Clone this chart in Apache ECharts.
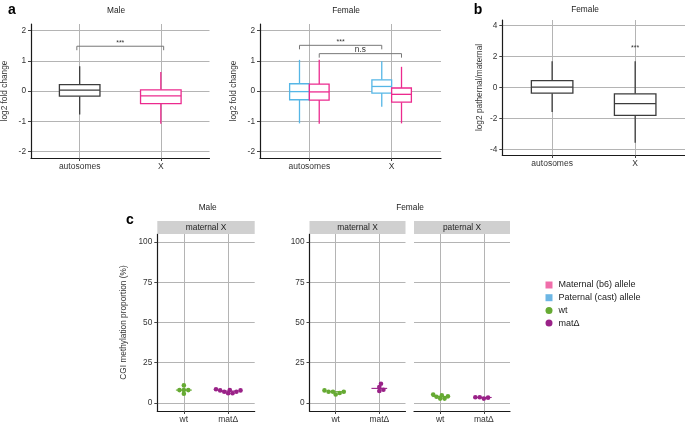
<!DOCTYPE html>
<html><head><meta charset="utf-8">
<script src="https://cdn.jsdelivr.net/npm/echarts@6/dist/echarts.min.js"></script>
<style>html,body{margin:0;padding:0;background:#fff}#c{width:685px;height:424px}</style>
</head><body><div id="c"></div>
<script>
// ---------------- data ----------------
const boxCategories = ['autosomes', 'X'];
// box statistics: [lower whisker, Q1, median, Q3, upper whisker]
const maleFoldChange = [[-0.78, -0.17, 0.03, 0.21, 0.82], [-1.08, -0.42, -0.16, 0.04, 0.63]];
const femalePaternalFoldChange = [[-1.07, -0.29, -0.02, 0.24, 1.03], [-0.52, -0.07, 0.15, 0.37, 0.98]];
const femaleMaternalFoldChange = [[-1.08, -0.30, -0.03, 0.23, 1.03], [-1.07, -0.37, -0.11, 0.10, 0.80]];
const femaleLog2PatMat = [[-1.58, -0.37, 0.02, 0.45, 1.70], [-3.58, -1.81, -1.04, -0.41, 1.70]];
const foldChangeTicks = [-2, -1, 0, 1, 2];
const patMatTicks = [-4, -2, 0, 2, 4];
const maleBrackets = [{ x1: 0.965, x2: 2.035, y: 1.48, label: '***' }];
const femaleBrackets = [{ x1: 0.88, x2: 1.88, y: 1.51, label: '***' }, { x1: 1.12, x2: 2.12, y: 1.235, label: 'n.s' }];
const patMatLabels = [{ x: 2, y: 2.35, label: '***' }];

const methylCategories = ['wt', 'matΔ'];
const methylTicks = [0, 25, 50, 75, 100];
const maleMaternalX_wt = [8.0, 8.0, 10.9, 5.7, 8.0];
const maleMaternalX_mat = [8.0, 7.8, 7.0, 6.0, 6.0, 7.0, 7.8, 8.5];
const femaleMaternalX_wt = [7.8, 7.0, 7.0, 5.3, 6.2, 7.0];
const femaleMaternalX_mat = [9.9, 7.4, 8.2, 11.9];
const femalePaternalX_wt = [4.7, 3.9, 2.7, 2.7, 4.1, 5.3];
const femalePaternalX_mat = [3.5, 3.5, 2.7, 3.3];

// ---------------- style ----------------
const FONT = "'Liberation Sans', Arial, Helvetica, sans-serif";
const GRID = '#b4b4b4';
const AXIS = '#1a1a1a';
const TXT = '#333333';
const C_DARK = '#3c3c3c', C_PINK = '#EC2A8E', C_BLUE = '#55B6E6';
const C_GREEN = '#66AA33', C_PURPLE = '#9A2288';
const grids = [
  { left: 30, top: 24, width: 179.5, height: 134 },
  { left: 260, top: 24, width: 181, height: 134 },
  { left: 502.3, top: 20, width: 183.3, height: 135 },
  { left: 157.3, top: 234, width: 97.4, height: 178.5 },
  { left: 309.5, top: 234, width: 96, height: 178.5 },
  { left: 414, top: 234, width: 96, height: 178.5 }
];
const XMIN = 0.4, XMAX = 2.6;

function xAxis(gi, labels) {
  return {
    type: 'value', gridIndex: gi, min: XMIN, max: XMAX,
    axisLine: { show: true, onZero: false, lineStyle: { color: AXIS, width: 1.2 } },
    axisTick: { show: true, customValues: [1, 2], length: 3, lineStyle: { color: '#444' } },
    axisLabel: { customValues: [1, 2], formatter: v => labels[Math.round(v) - 1], fontSize: 8.5, color: TXT, margin: 4, fontFamily: FONT },
    splitLine: { show: true, lineStyle: { color: GRID, width: 1 } }
  };
}
function yAxis(gi, min, max, ticks, name, gap, show) {
  return {
    type: 'value', gridIndex: gi, min, max,
    name, nameLocation: 'middle', nameGap: gap, nameRotate: 90,
    nameTextStyle: { fontSize: 8.3, color: TXT, fontFamily: FONT },
    axisLine: { show: show, onZero: false, lineStyle: { color: AXIS, width: 1.2 } },
    axisTick: { show: show, customValues: ticks, length: 3, lineStyle: { color: '#444' } },
    axisLabel: { show: show, customValues: ticks, fontSize: 8.3, color: TXT, margin: 5, fontFamily: FONT },
    splitLine: { show: true, lineStyle: { color: GRID, width: 1 } }
  };
}

function boxRender(boxW, color, lw) {
  return function (params, api) {
    const x = api.value(0);
    const lo = api.coord([x, api.value(1)]), q1 = api.coord([x, api.value(2)]),
      md = api.coord([x, api.value(3)]), q3 = api.coord([x, api.value(4)]), hi = api.coord([x, api.value(5)]);
    const L = api.coord([x - boxW / 2, 0])[0], R = api.coord([x + boxW / 2, 0])[0];
    const cx = lo[0];
    const st = { stroke: color, lineWidth: lw };
    return { type: 'group', children: [
      { type: 'line', shape: { x1: cx, y1: hi[1], x2: cx, y2: q3[1] }, style: st },
      { type: 'line', shape: { x1: cx, y1: q1[1], x2: cx, y2: lo[1] }, style: st },
      { type: 'rect', shape: { x: L, y: q3[1], width: R - L, height: q1[1] - q3[1] }, style: { stroke: color, lineWidth: lw, fill: '#ffffff' } },
      { type: 'line', shape: { x1: L, y1: md[1], x2: R, y2: md[1] }, style: st }
    ] };
  };
}
function boxSeries(gi, stats, first, shift, boxW, color, name) {
  return {
    type: 'custom', name, xAxisIndex: gi, yAxisIndex: gi, clip: false, silent: true,
    itemStyle: { color },
    renderItem: boxRender(boxW, color, 1.3),
    encode: { x: 0, y: [1, 2, 3, 4, 5] },
    data: stats.map((s, i) => [first + i + shift].concat(s)), z: 3
  };
}
function bracketSeries(gi, list) {
  return {
    type: 'custom', xAxisIndex: gi, yAxisIndex: gi, clip: false, silent: true,
    renderItem: function (params, api) {
      const b = list[params.dataIndex];
      const p1 = api.coord([b.x1, b.y]), p2 = api.coord([b.x2, b.y]);
      const isStar = b.label === '***';
      return { type: 'group', children: [
        { type: 'polyline', shape: { points: [[p1[0], p1[1] + 4], [p1[0], p1[1]], [p2[0], p2[1]], [p2[0], p2[1] + 4]] }, style: { stroke: '#777', lineWidth: 1, fill: null } },
        { type: 'text', style: { text: b.label, x: (p1[0] + p2[0]) / 2, y: p1[1] + 0.5, align: 'center', verticalAlign: 'bottom', fontSize: isStar ? 7 : 8.3, fill: TXT, fontFamily: FONT } }
      ] };
    },
    data: list.map(b => [b.x1, b.y]), z: 4
  };
}
function labelSeries(gi, list) {
  return {
    type: 'custom', xAxisIndex: gi, yAxisIndex: gi, clip: false, silent: true,
    renderItem: function (params, api) {
      const b = list[params.dataIndex];
      const p = api.coord([b.x, b.y]);
      return { type: 'text', style: { text: b.label, x: p[0], y: p[1], align: 'center', verticalAlign: 'bottom', fontSize: 7, fill: TXT, fontFamily: FONT } };
    },
    data: list.map(b => [b.x, b.y]), z: 4
  };
}

// beeswarm layout (pixel space): ascending order, each point at the closest free offset
const SX = 4.4, SY = 3.5;
function swarm(values, pxPerY) {
  const order = values.map((v, i) => i).sort((a, b) => values[a] - values[b]);
  const placed = [], offs = new Array(values.length);
  for (const i of order) {
    const y = values[i] * pxPerY;
    const cands = [0];
    for (const p of placed) {
      const dy = Math.abs(p.y - y);
      if (dy < SY) { const dx = SX * Math.sqrt(1 - (dy / SY) ** 2); cands.push(p.x + dx, p.x - dx); }
    }
    const ok = cands.filter(c => placed.every(p => { const nx = (p.x - c) / SX, ny = (p.y - y) / SY; return nx * nx + ny * ny >= 0.999; }));
    ok.sort((a, b) => Math.abs(a) - Math.abs(b) || b - a);
    placed.push({ x: ok[0], y }); offs[i] = ok[0];
  }
  return offs;
}
function median(arr) { const s = arr.slice().sort((a, b) => a - b); const n = s.length; return n % 2 ? s[(n - 1) / 2] : (s[n / 2 - 1] + s[n / 2]) / 2; }
function dotGroup(gi, values, cat, name, color) {
  const g = grids[gi];
  const pxY = g.height / 110, pxX = g.width / (XMAX - XMIN);
  const offs = swarm(values, pxY);
  const med = median(values);
  return [
    { type: 'scatter', name, xAxisIndex: gi, yAxisIndex: gi, symbol: 'circle', symbolSize: 4.6, silent: true,
      itemStyle: { color, opacity: 1 }, data: values.map((v, i) => [cat + offs[i] / pxX, v]), z: 5 },
    { type: 'custom', xAxisIndex: gi, yAxisIndex: gi, silent: true, clip: false,
      renderItem: function (params, api) {
        const a = api.coord([api.value(0) - 0.18, api.value(1)]), b = api.coord([api.value(0) + 0.18, api.value(1)]);
        return { type: 'line', shape: { x1: a[0], y1: a[1], x2: b[0], y2: b[1] }, style: { stroke: color, lineWidth: 1.1 } };
      },
      data: [[cat, med]], z: 4 }
  ];
}

const series = [
  boxSeries(0, maleFoldChange.slice(0, 1), 1, 0, 0.5, C_DARK, 'male-auto'),
  boxSeries(0, maleFoldChange.slice(1), 2, 0, 0.5, C_PINK, 'male-x'),
  boxSeries(1, femalePaternalFoldChange, 1, -0.12, 0.24, C_BLUE, 'Paternal (cast) allele'),
  boxSeries(1, femaleMaternalFoldChange, 1, 0.12, 0.24, C_PINK, 'Maternal (b6) allele'),
  boxSeries(2, femaleLog2PatMat, 1, 0, 0.5, C_DARK, 'patmat'),
  bracketSeries(0, maleBrackets),
  bracketSeries(1, femaleBrackets),
  labelSeries(2, patMatLabels)
].concat(
  dotGroup(3, maleMaternalX_wt, 1, 'wt', C_GREEN),
  dotGroup(3, maleMaternalX_mat, 2, 'matΔ', C_PURPLE),
  dotGroup(4, femaleMaternalX_wt, 1, 'wt', C_GREEN),
  dotGroup(4, femaleMaternalX_mat, 2, 'matΔ', C_PURPLE),
  dotGroup(5, femalePaternalX_wt, 1, 'wt', C_GREEN),
  dotGroup(5, femalePaternalX_mat, 2, 'matΔ', C_PURPLE)
);

function txt(text, x, y, size, bold) {
  return { type: 'text', x, y, z: 10, style: { text, align: 'center', verticalAlign: 'middle', fontSize: size, fontWeight: bold ? 'bold' : 'normal', fill: bold ? '#000' : '#222', fontFamily: FONT } };
}
function strip(gi, text) {
  const g = grids[gi];
  return [
    { type: 'rect', z: 10, shape: { x: g.left, y: 221, width: g.width, height: 13 }, style: { fill: '#d0d0d0' } },
    txt(text, g.left + g.width / 2, 227.5, 8.4, false)
  ];
}

const option = {
  animation: false,
  backgroundColor: '#ffffff',
  grid: grids.map(g => Object.assign({ containLabel: false }, g)),
  xAxis: [xAxis(0, boxCategories), xAxis(1, boxCategories), xAxis(2, boxCategories),
    xAxis(3, methylCategories), xAxis(4, methylCategories), xAxis(5, methylCategories)],
  yAxis: [
    yAxis(0, -2.215, 2.215, foldChangeTicks, 'log2 fold change', 22, true),
    yAxis(1, -2.215, 2.215, foldChangeTicks, 'log2 fold change', 22, true),
    yAxis(2, -4.37, 4.37, patMatTicks, 'log2 pathernal/maternal', 19, true),
    yAxis(3, -5, 105, methylTicks, 'CGI methylation proportion (%)', 30, true),
    yAxis(4, -5, 105, methylTicks, '', 30, true),
    yAxis(5, -5, 105, methylTicks, '', 30, false)
  ],
  legend: {
    orient: 'vertical', left: 540.5, top: 275.5, itemWidth: 7, itemHeight: 7, itemGap: 3.7,
    selectedMode: false,
    textStyle: { fontSize: 9, color: '#222', fontFamily: FONT, padding: [0, 0, 0, 1] },
    data: [
      { name: 'Maternal (b6) allele', icon: 'rect', itemStyle: { color: '#F06EAA', borderWidth: 0 } },
      { name: 'Paternal (cast) allele', icon: 'rect', itemStyle: { color: '#6CB6E4', borderWidth: 0 } },
      { name: 'wt', icon: 'circle', itemStyle: { color: C_GREEN } },
      { name: 'matΔ', icon: 'circle', itemStyle: { color: C_PURPLE } }
    ]
  },
  graphic: [
    txt('a', 12, 10, 14, true), txt('b', 478, 10, 14, true), txt('c', 130, 220, 14, true),
    txt('Male', 116, 11, 8.3, false), txt('Female', 346, 11, 8.3, false), txt('Female', 585, 10, 8.3, false),
    txt('Male', 207.7, 207.5, 8.3, false), txt('Female', 410, 207.5, 8.3, false)
  ].concat(strip(3, 'maternal X'), strip(4, 'maternal X'), strip(5, 'paternal X')),
  series
};
const chart = echarts.init(document.getElementById('c'), null, { renderer: 'canvas' });
chart.setOption(option);
</script></body></html>
